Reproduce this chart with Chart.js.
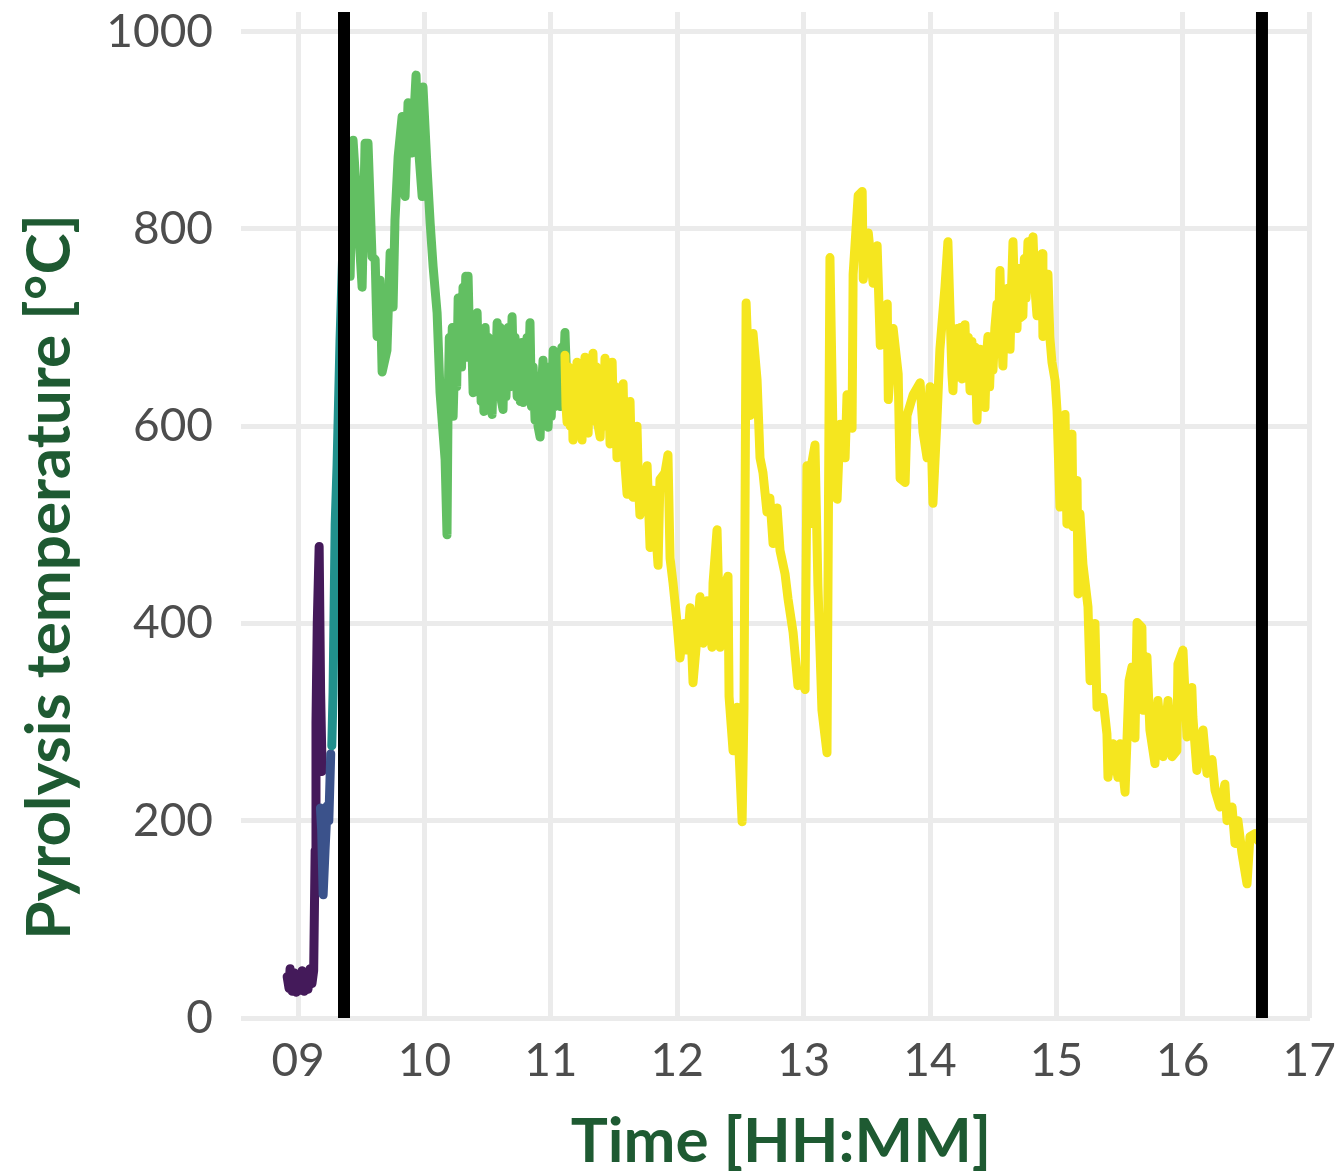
<!DOCTYPE html>
<html>
<head>
<meta charset="utf-8">
<title>Pyrolysis temperature</title>
<script src="https://cdn.jsdelivr.net/npm/chart.js@4.4.1/dist/chart.umd.min.js"></script>
<style>
  html, body { margin: 0; padding: 0; background: #fff; }
  canvas { display: block; }
</style>
</head>
<body>
<canvas id="chart" width="1343" height="1172"></canvas>
<script>
// time is minutes since midnight, temp is °C; one pair of arrays per phase
const phase1Time = [534.8, 535.7, 536.2, 537.2, 538.1, 539.1, 540.0, 540.9, 541.9, 542.8, 543.8, 544.7, 545.7, 546.6, 547.4, 548.1, 548.5, 549.1, 550.0, 550.7, 551.4];
const phase1Temp = [42, 30, 50, 27, 46, 26, 44, 28, 48, 27, 45, 29, 50, 35, 48, 170, 300, 400, 478, 330, 250];

const phase2Time = [550.6, 551.2, 551.9, 552.8, 553.8, 554.6, 555.5];
const phase2Temp = [213, 190, 125, 170, 215, 200, 268];

const phase3Time = [556.0, 556.6, 557.6, 558.5, 559.9, 561.4, 562.8];
const phase3Temp = [276, 330, 500, 560, 686, 790, 830];

const phase4Time = [563.0, 564.7, 566.1, 568.0, 570.4, 571.8, 573.2, 575.1, 576.6, 577.5, 578.9, 579.9, 582.2, 583.7, 585.1, 586.0,
  587.5, 589.4, 590.8, 592.2, 594.1, 596.0, 597.0, 598.9, 599.3, 601.2, 602.7, 604.1, 606.0, 607.4, 609.8, 610.7,
  611.2, 611.8, 612.6, 613.2, 613.6, 614.5, 615.3, 616.0, 616.9, 617.6, 618.3, 619.0, 619.6, 620.3, 620.7, 621.5,
  622.3, 623.1, 623.8, 624.4, 625.0, 625.8, 626.4, 626.9, 627.6, 628.2, 628.8, 629.6, 630.3, 631.0, 631.6, 632.1,
  632.8, 633.5, 634.5, 635.2, 635.9, 636.6, 637.3, 638.0, 638.7, 639.7, 640.5, 641.6, 642.3, 643.0, 644.0, 644.8,
  645.5, 646.2, 646.8, 647.6, 648.7, 649.3, 650.1, 650.8, 651.6, 652.5, 653.2, 653.9, 654.9, 655.6, 656.3, 657.0,
  657.8, 658.7, 659.5, 660.2, 661.1, 661.8, 662.6, 663.4, 664.4, 665.2, 665.9, 666.7, 667.3, 667.7];
const phase4Temp = [800, 752, 890, 826, 741, 887, 887, 772, 769, 691, 748, 655, 677, 776, 721, 809,
  873, 914, 833, 928, 877, 956, 887, 833, 944, 863, 806, 762, 715, 634, 566, 490,
  620, 690, 640, 700, 610, 680, 640, 730, 708, 660, 741, 690, 752, 670, 752, 680,
  700, 634, 700, 650, 715, 640, 690, 625, 680, 615, 700, 640, 690, 620, 680, 612,
  670, 630, 705, 640, 700, 625, 617, 690, 630, 700, 640, 711, 650, 690, 630, 680,
  625, 685, 624, 660, 690, 640, 705, 620, 660, 606, 650, 600, 589, 640, 667, 610,
  660, 599, 650, 610, 677, 620, 660, 640, 620, 680, 650, 695, 660, 630];

const phase5Time = [666.7, 667.2, 667.7, 668.4, 669.2, 670.0, 670.5, 671.2, 671.8, 672.4, 673.2, 674.0, 674.8, 675.5, 676.2, 676.9,
  677.7, 678.4, 679.2, 680.0, 680.8, 681.6, 682.5, 683.4, 684.2, 685.0, 685.7, 686.5, 687.3, 688.1, 688.6, 689.1,
  689.8, 690.6, 691.4, 692.2, 693.0, 694.3, 695.2, 696.2, 696.9, 697.6, 698.3, 699.0, 699.9, 700.9, 701.6, 702.3,
  705.7, 707.1, 708.5, 710.9, 711.8, 714.2, 715.6, 716.6, 718.0, 719.9, 721.3, 723.2, 724.6,
  726.1, 727.5, 729.4, 730.8, 732.2, 734.1, 736.5, 737.0, 738.9, 740.3, 741.7, 744.1, 744.6, 746.5, 748.4, 750.8,
  751.7, 752.7, 754.6, 756.0, 757.9, 759.3, 760.7, 762.6, 764.0, 765.5, 767.4, 768.8, 771.2, 772.6, 775.0, 777.3,
  779.2, 780.7, 781.6, 783.0, 784.0, 785.4, 786.8, 788.7, 791.1, 792.5, 794.0, 795.9, 797.3, 799.7, 800.6, 803.0,
  803.5, 805.9, 807.8, 808.3, 810.7, 813.0, 814.9, 816.4, 819.7, 820.2, 822.5, 824.9, 825.8, 828.2, 829.1, 832.0,
  835.3, 836.7, 838.6, 840.0, 841.4, 843.3, 844.7, 847.1, 848.5, 850.4, 850.9, 851.8, 852.8, 853.6, 854.4, 855.2,
  855.9, 856.6, 857.4, 858.2, 859.0, 859.9, 860.6, 861.4, 862.3, 863.0, 863.7, 864.5, 865.3, 866.1, 866.8, 867.5,
  868.3, 869.1, 869.9, 870.8, 871.8, 872.5, 873.2, 873.9, 874.6, 875.4, 876.2, 877.0, 878.0, 878.7, 879.4, 880.3,
  881.3, 882.1, 882.9, 884.1, 884.8, 885.6, 886.5, 887.3, 888.1, 888.9, 889.8, 890.8, 891.6, 892.4, 893.2, 893.6,
  894.4, 895.2, 896.0, 896.9, 897.9, 899.4, 900.3, 901.7, 902.7, 904.1, 905.0, 907.4, 907.9, 909.8, 910.3, 911.2,
  912.6, 915.0, 916.0, 918.3, 919.3, 922.1, 924.0, 924.5, 926.9, 929.2, 930.2, 932.6, 933.5, 934.5, 935.9, 937.3,
  938.3, 940.6, 941.1, 943.0, 944.4, 946.8, 948.2, 950.6, 953.0, 954.9, 957.2, 957.7, 960.1, 962.0, 964.3, 964.8,
  966.7, 969.6, 971.5, 973.9, 975.3, 977.7, 980.0, 981.0, 983.4, 984.8, 986.2, 988.1, 990.5, 991.9, 994.3, 995.7];
const phase5Temp = [672, 620, 604, 660, 600, 650, 586, 640, 600, 665, 610, 655, 586, 640, 670, 610,
  593, 650, 605, 674, 610, 660, 600, 589, 640, 600, 669, 610, 650, 582, 630, 665,
  600, 640, 568, 620, 580, 643, 560, 531, 600, 625, 560, 528, 580, 600, 540, 510,
  560, 477, 535, 459, 546, 553, 571, 466, 441, 401, 365, 400, 373,
  416, 340, 387, 427, 380, 423, 376, 441, 495, 376, 434, 448, 326, 271, 315, 199,
  315, 725, 611, 694, 647, 568, 553, 513, 527, 481, 517, 474, 450, 425, 391, 337,
  345, 333, 560, 501, 564, 581, 438, 312, 269, 771, 585, 526, 602, 568, 632, 598,
  754, 834, 838, 749, 796, 745, 783, 682, 724, 627, 699, 653, 547, 543, 611, 632,
  644, 594, 568, 640, 522, 606, 678, 741, 787, 653, 636, 690, 699, 650, 700, 648,
  690, 703, 650, 690, 636, 686, 640, 680, 606, 650, 678, 630, 670, 619, 670, 691,
  640, 690, 657, 700, 724, 690, 758, 700, 661, 720, 690, 740, 678, 740, 787, 720,
  699, 760, 710, 712, 770, 730, 787, 740, 780, 792, 740, 712, 770, 730, 775, 691,
  750, 700, 754, 690, 665, 646, 616, 518, 600, 612, 501, 592, 498, 545, 430, 511,
  460, 417, 342, 400, 315, 325, 288, 244, 278, 244, 278, 229, 281, 342, 356, 284,
  401, 396, 312, 366, 292, 258, 322, 265, 322, 265, 271, 359, 373, 285, 335, 305,
  251, 292, 248, 262, 231, 214, 237, 200, 214, 177, 200, 167, 136, 184, 187, 180];

// start and end of the run (vertical markers)
const markerTimes = [561.8, 997.6];

const hourLabels = ['09', '10', '11', '12', '13', '14', '15', '16', '17'];
const tempTicks = [0, 200, 400, 600, 800, 1000];

const phaseColors = ['#441a5a', '#3b528b', '#21908c', '#62bf62', '#f5e61f'];

function toPoints(times, temps) {
  return times.map((t, i) => ({ x: t, y: temps[i] }));
}

const phases = [
  [phase1Time, phase1Temp],
  [phase2Time, phase2Temp],
  [phase3Time, phase3Temp],
  [phase4Time, phase4Temp],
  [phase5Time, phase5Temp]
];

const datasets = phases.map((p, i) => ({
  data: toPoints(p[0], p[1]),
  borderColor: phaseColors[i],
  borderWidth: 9,
  borderJoinStyle: 'round',
  borderCapStyle: 'round',
  pointRadius: 0,
  tension: 0,
  order: phases.length - i
}));

markerTimes.forEach(t => {
  datasets.push({
    data: [{ x: t, y: 0 }, { x: t, y: 1020 }],
    borderColor: '#000000',
    borderWidth: 12,
    borderCapStyle: 'butt',
    pointRadius: 0,
    order: 0
  });
});

// axis titles placed by hand, like the ggplot original
const axisTitles = {
  id: 'axisTitles',
  afterDraw(chart) {
    const ctx = chart.ctx;
    ctx.save();
    ctx.fillStyle = '#1e5a32';
    ctx.font = 'bold 62px Lato';
    ctx.textAlign = 'center';
    ctx.textBaseline = 'alphabetic';
    ctx.fillText('Time [HH:MM]', 781, 1162);
    ctx.translate(70, 577);
    ctx.rotate(-Math.PI / 2);
    ctx.fillText('Pyrolysis temperature [°C]', 0, 0);
    ctx.restore();
  }
};

// keep the panel where the original has it, labels may overhang
function noOverhang(s) {
  s.paddingTop = 0;
  s.paddingBottom = 0;
  s.paddingLeft = 0;
  s.paddingRight = 0;
}

const tickFont = { family: 'Lato', size: 46, lineHeight: 1 };

new Chart(document.getElementById('chart'), {
  type: 'line',
  data: { datasets },
  plugins: [axisTitles],
  options: {
    responsive: false,
    animation: false,
    layout: { padding: { top: 12, right: 33, left: 0, bottom: 0 } },
    plugins: {
      legend: { display: false },
      tooltip: { enabled: false }
    },
    scales: {
      x: {
        type: 'linear',
        min: 512.9,
        max: 1020.4,
        afterFit: s => { s.height = 154; noOverhang(s); },
        border: { display: false },
        grid: { color: '#ebebeb', lineWidth: 5, drawTicks: false },
        ticks: {
          stepSize: 60,
          includeBounds: false,
          padding: 20,
          maxRotation: 0,
          autoSkip: false,
          color: '#4d4d4d',
          font: tickFont,
          callback: v => hourLabels[Math.round((v - 540) / 60)]
        }
      },
      y: {
        min: 0,
        max: 1020,
        afterFit: s => { s.width = 241; noOverhang(s); },
        border: { display: false },
        grid: { color: '#ebebeb', lineWidth: 5, drawTicks: false },
        afterBuildTicks: s => { s.ticks = tempTicks.map(v => ({ value: v })); },
        ticks: {
          padding: 28,
          color: '#4d4d4d',
          font: tickFont,
          callback: v => String(v)
        }
      }
    }
  }
});
</script>
</body>
</html>
